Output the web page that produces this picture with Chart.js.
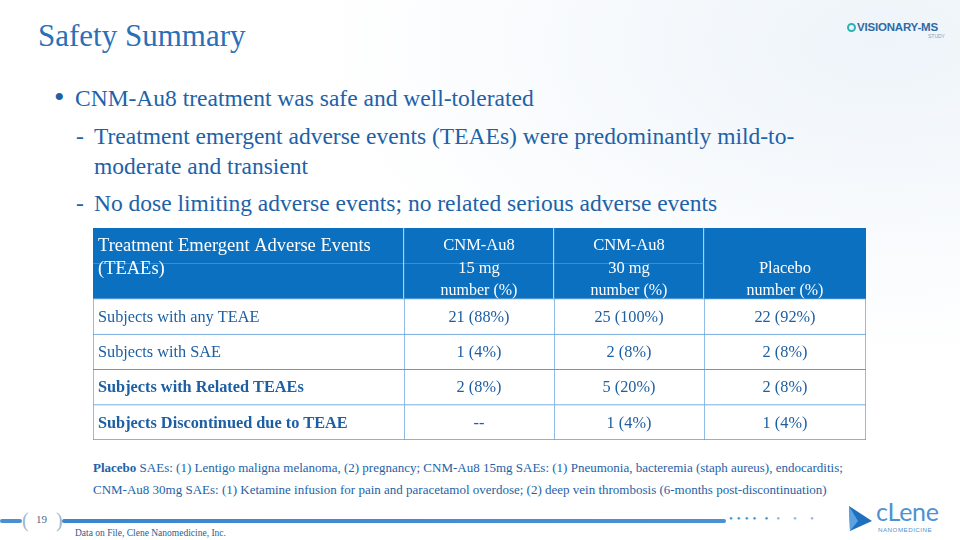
<!DOCTYPE html>
<html>
<head>
<meta charset="utf-8">
<script src="https://cdn.jsdelivr.net/npm/chart.js@4.4.1/dist/chart.umd.min.js"></script>
<style>
  html, body { margin: 0; padding: 0; }
  body {
    width: 960px; height: 540px; position: relative; overflow: hidden;
    background: radial-gradient(ellipse at 92% 8%, #eef4fa 0%, #ffffff 45%),
                radial-gradient(ellipse at 0% 10%, #f1f6fb 0%, rgba(255,255,255,0) 30%);
    font-family: "Liberation Serif", serif;
  }
  .abs { position: absolute; white-space: nowrap; }
  #title { left: 38px; top: 18px; font-size: 31px; color: #2a70b8; }
  .b1 { font-size: 23.5px; color: #1d62a8; line-height: 28px; }
  #tableBox { position: absolute; left: 93px; top: 228px; width: 773px; height: 212px; }
  .foot { font-size: 13px; color: #1d62a8; left: 93px; line-height: 15px; }
  .bar { position: absolute; top: 519px; height: 4px; border-radius: 2px; }
</style>
</head>
<body>
<div id="title" class="abs">Safety Summary</div>

<div class="abs b1" style="left:54px; top:83px; font-size:30px;">&#8226;</div>
<div class="abs b1" style="left:75px; top:84px;">CNM-Au8 treatment was safe and well-tolerated</div>
<div class="abs b1" style="left:76px; top:122px;">-</div>
<div class="abs b1" style="left:94px; top:122px;">Treatment emergent adverse events (TEAEs) were predominantly mild-to-</div>
<div class="abs b1" style="left:94px; top:152px;">moderate and transient</div>
<div class="abs b1" style="left:76px; top:189px;">-</div>
<div class="abs b1" style="left:94px; top:189px;">No dose limiting adverse events; no related serious adverse events</div>

<div id="tableBox"><canvas id="safetyTable"></canvas></div>

<div class="abs foot" style="top:460px;"><b>Placebo</b> SAEs: (1) Lentigo maligna melanoma, (2) pregnancy; CNM-Au8 15mg SAEs: (1) Pneumonia, bacteremia (staph aureus), endocarditis;</div>
<div class="abs foot" style="top:482px;">CNM-Au8 30mg SAEs: (1) Ketamine infusion for pain and paracetamol overdose; (2) deep vein thrombosis (6-months post-discontinuation)</div>

<!-- top right logo -->
<div class="abs" style="left:847px; top:21px; font-family:'Liberation Sans',sans-serif; font-weight:bold; font-size:11.5px; color:#2f6aa3; letter-spacing:-0.2px;">
  <span style="display:inline-block; width:9px; height:9px; border-radius:50%; border:2px solid #2bb3b1; box-sizing:border-box; vertical-align:-1px; margin-right:1px;"></span>VISIONARY-MS
</div>
<div class="abs" style="left:928px; top:33px; font-family:'Liberation Sans',sans-serif; font-size:5px; color:#7aa0c4;">STUDY</div>

<!-- footer -->
<div class="bar" style="left:0; width:22px; background:#4a8fd0;"></div>
<div class="abs" style="left:22px; top:509px; font-size:20px; color:#9fb6cc;">(</div>
<div class="abs" style="left:36px; top:513px; font-size:11px; color:#4a6b8a;">19</div>
<div class="abs" style="left:56px; top:509px; font-size:20px; color:#9fb6cc;">)</div>
<div class="bar" style="left:62px; width:664px; background:linear-gradient(to right, #3a86cf, #4b92d4);"></div>
<div class="abs" style="left:729px; top:512px; font-size:11px; color:#4a8fd0; letter-spacing:4px;">&#8226;&#8226;&#8226;<span style="letter-spacing:8px;">&#8226;&#8226;</span><span style="letter-spacing:13px; color:#8fb8df;">&#8226;&#8226;&#8226;</span></div>
<div class="abs" style="left:75px; top:528px; font-size:9.5px; color:#2a5d8f;">Data on File, Clene Nanomedicine, Inc.</div>

<!-- clene logo -->
<svg class="abs" style="left:847px; top:504px;" width="26" height="28" viewBox="0 0 26 28">
  <polygon points="2,2 25,17 3,27" fill="#1f6fbf"/>
  <polygon points="2,2 11,17 3,27" fill="#5aa2e0"/>
</svg>
<div class="abs" style="left:876px; top:496px; font-family:'Lato',sans-serif; font-size:25px; color:#4f92d2; letter-spacing:-0.3px;">cLene</div>
<div class="abs" style="left:878px; top:526px; font-family:'Liberation Sans',sans-serif; font-size:6.2px; color:#4f92d2; letter-spacing:0.5px;">NANOMEDICINE</div>

<script>
// table content
const headerLabel = ['Treatment Emergent Adverse Events', '(TEAEs)'];
const armNames = ['CNM-Au8', 'CNM-Au8', 'Placebo'];
const armDoses = ['15 mg', '30 mg', ''];
const unitLabel = 'number (%)';
const rowLabels = ['Subjects with any TEAE', 'Subjects with SAE', 'Subjects with Related TEAEs', 'Subjects Discontinued due to TEAE'];
const boldRows = [false, false, true, true];
const au8_15Count = [21, 1, 2, null];
const au8_15Pct = [88, 4, 8, null];
const au8_30Count = [25, 2, 5, 1];
const au8_30Pct = [100, 8, 20, 4];
const placeboCount = [22, 2, 2, 1];
const placeboPct = [92, 8, 8, 4];

// layout of the columns (pixel widths inside the canvas)
const colEdges = [0, 311, 461, 611, 773];
const HEAD_BLUE = '#0b70c0';
const LINE_BLUE = '#5a9bd8';
const TEXT_BLUE = '#1d5fa3';

const cats = ['h1', 'h2'].concat(rowLabels);
const lastRow = cats.length - 1;

function fmt(n, p) {
  if (n === null) return '--';
  return n + ' (' + p + '%)';
}
const cellText = [
  rowLabels,
  au8_15Count.map((n, i) => fmt(n, au8_15Pct[i])),
  au8_30Count.map((n, i) => fmt(n, au8_30Pct[i])),
  placeboCount.map((n, i) => fmt(n, placeboPct[i]))
];

const datasets = colEdges.slice(0, -1).map((x0, c) => ({
  label: 'col' + c,
  data: cats.map(() => [x0, colEdges[c + 1]]),
  backgroundColor: cats.map((_, r) => r < 2 ? HEAD_BLUE : '#ffffff'),
  borderColor: cats.map((_, r) => r < 2 ? '#ffffff' : LINE_BLUE),
  borderWidth: cats.map((_, r) => r < 2
    ? { left: 0, top: 0, bottom: 0, right: c < 3 ? 1 : 0 }
    : { left: 1, top: 1, right: c === 3 ? 1 : 0, bottom: r === lastRow ? 1 : 0 }),
  borderSkipped: false,
  grouped: false,
  barPercentage: 1,
  categoryPercentage: 1
}));

const cellLabels = {
  id: 'cellLabels',
  afterDatasetsDraw(chart) {
    const ctx = chart.ctx;
    ctx.save();
    ctx.textBaseline = 'middle';
    chart.data.datasets.forEach((ds, c) => {
      const meta = chart.getDatasetMeta(c);
      const h0 = meta.data[0].getProps(['x', 'y', 'base', 'height'], true);
      const h1 = meta.data[1].getProps(['x', 'y', 'base', 'height'], true);
      const top = h0.y - h0.height / 2;
      const bottom = h1.y + h1.height / 2;
      const left = Math.min(h0.x, h0.base), right = Math.max(h0.x, h0.base);
      const mid = (left + right) / 2;
      ctx.fillStyle = '#ffffff';
      if (c === 0) {
        ctx.textAlign = 'left';
        ctx.font = '18.5px "Liberation Serif"';
        ctx.fillText(headerLabel[0], left + 5, top + 18);
        ctx.fillText(headerLabel[1], left + 5, top + 41);
      } else {
        ctx.textAlign = 'center';
        ctx.font = '16.5px "Liberation Serif"';
        if (armDoses[c - 1]) {
          ctx.fillText(armNames[c - 1], mid, top + 18);
          ctx.fillText(armDoses[c - 1], mid, top + 41);
        } else {
          ctx.fillText(armNames[c - 1], mid, top + 41);
        }
        ctx.font = '16px "Liberation Serif"';
        ctx.fillText(unitLabel, mid, bottom - 8);
      }
      // body cells
      ctx.fillStyle = TEXT_BLUE;
      for (let r = 2; r < cats.length; r++) {
        const el = meta.data[r].getProps(['x', 'y', 'base'], true);
        const i = r - 2;
        if (c === 0) {
          ctx.textAlign = 'left';
          ctx.font = (boldRows[i] ? 'bold ' : '') + '16.3px "Liberation Serif"';
          ctx.fillText(cellText[0][i], Math.min(el.x, el.base) + 5, el.y + 1);
        } else {
          ctx.textAlign = 'center';
          ctx.font = '16.3px "Liberation Serif"';
          ctx.fillText(cellText[c][i], (el.x + el.base) / 2, el.y + 1);
        }
      }
    });
    ctx.restore();
  }
};

new Chart(document.getElementById('safetyTable').getContext('2d'), {
  type: 'bar',
  data: { labels: cats, datasets: datasets },
  options: {
    indexAxis: 'y',
    responsive: true,
    maintainAspectRatio: false,
    animation: false,
    layout: { padding: 0 },
    plugins: { legend: { display: false }, tooltip: { enabled: false } },
    scales: {
      x: { type: 'linear', min: colEdges[0], max: colEdges[colEdges.length - 1], display: false },
      y: { display: false }
    }
  },
  plugins: [cellLabels]
});
</script>
</body>
</html>
